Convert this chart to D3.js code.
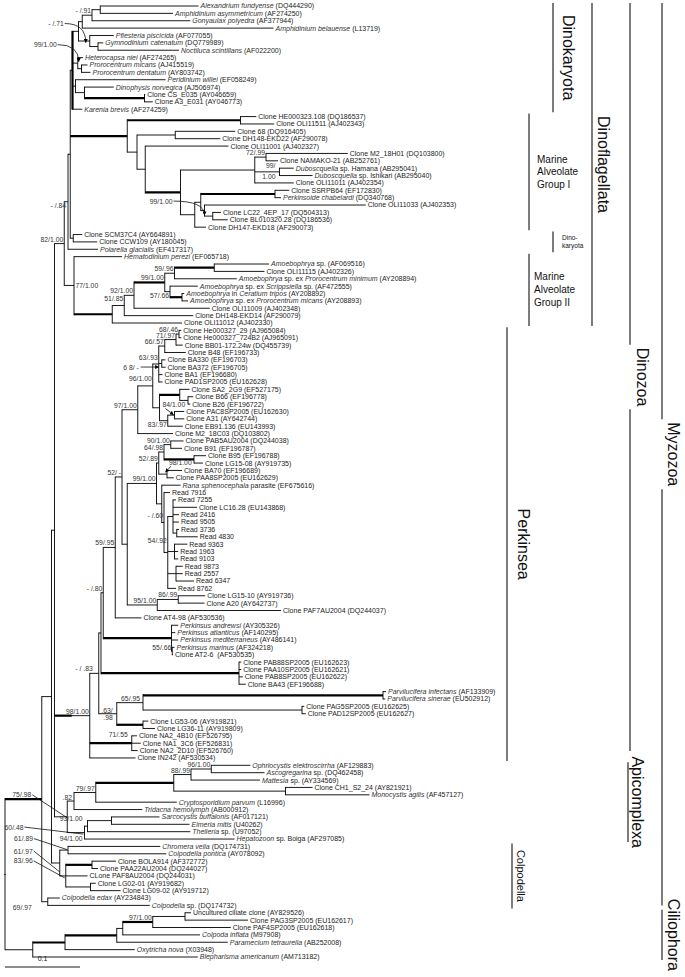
<!DOCTYPE html>
<html><head><meta charset="utf-8">
<script src="https://cdn.jsdelivr.net/npm/d3@7"></script>
<style>
html,body{margin:0;padding:0;background:#fff;}
svg{display:block;}
</style></head><body>
<svg id="chart" width="685" height="977"></svg>
<script>
// ---------------- DATA ----------------
// Leaf labels in tree order; *...* marks italic text.
const leafLabels = [
"*Alexandrium fundyense* (DQ444290)","*Amphidinium asymmetricum* (AF274250)","*Gonyaulax polyedra* (AF377944)",
"*Amphidinium belauense* (L13719)","*Pfiesteria piscicida* (AF077055)","*Gymnodinium catenatum* (DQ779989)",
"*Noctiluca scintillans* (AF022200)","*Heterocapsa niei* (AF274265)","*Prorocentrum micans* (AJ415519)",
"*Prorocentrum dentatum* (AY803742)","*Peridinium willei* (EF058249)","*Dinophysis norvegica* (AJ506974)",
"Clone CS_E035 (AY046659)","Clone A3_E031 (AY046773)","*Karenia brevis* (AF274259)",
"Clone HE000323.108 (DQ186537)","Clone OLI11511 (AJ402343)","Clone 68 (DQ916405)","Clone DH148-EKD22 (AF290078)",
"Clone OLI11001 (AJ402327)","Clone M2_18H01 (DQ103800)","Clone NAMAKO-21 (AB252761)",
"*Duboscquella* sp. Hamana (AB295041)","*Duboscquella* sp. Ishikari (AB295040)","Clone OLI11011 (AJ402354)",
"Clone SSRPB64 (EF172830)","*Perkinsoide chabelardi* (DQ340768)","Clone OLI11033 (AJ402353)",
"Clone LC22_4EP_17 (DQ504313)","Clone BL010320.28 (DQ186536)","Clone DH147-EKD18 (AF290073)",
"Clone SCM37C4 (AY664891)","Clone CCW109 (AY180045)","*Polarella glacialis* (EF417317)",
"*Hematodinium perezi* (EF065718)","*Amoebophrya* sp. (AF069516)","Clone OLI11115 (AJ402326)",
"*Amoebophrya* sp. ex *Prorocentrum minimum* (AY208894)","*Amoebophrya* sp. ex *Scrippsiella* sp. (AF472555)",
"*Amoebophrya* in *Ceratium tripos* (AY208892)","*Amoebophrya* sp. ex *Prorocentrum micans* (AY208893)",
"Clone OLI11009 (AJ402348)","Clone DH148-EKD14 (AF290079)","Clone OLI11012 (AJ402330)",
"Clone He000327_29 (AJ965084)","Clone He000327_724B2 (AJ965091)","Clone BB01-172.24w (DQ455739)",
"Clone B48 (EF196733)","Clone BA330 (EF196703)","Clone BA372 (EF196705)","Clone BA1 (EF196680)",
"Clone PAD1SP2005 (EU162628)","Clone SA2_2G9 (EF527175)","Clone B66 (EF196778)","Clone B26 (EF196722)",
"Clone PAC8SP2005 (EU162630)","Clone A31 (AY642744)","Clone EB91.136 (EU143993)","Clone M2_18C03 (DQ103802)",
"Clone PAB5AU2004 (DQ244038)","Clone B91 (EF196787)","Clone B95 (EF196788)","Clone LG15-08 (AY919735)",
"Clone BA70 (EF196689)","Clone PAA8SP2005 (EU162629)","*Rana sphenocephala* parasite (EF675616)",
"Read 7916","Read 7255","Clone LC16.28 (EU143868)","Read 2416","Read 9505","Read 3736","Read 4830",
"Read 9363","Read 1963","Read 9103","Read 9873","Read 2557","Read 6347","Read 8762",
"Clone LG15-10 (AY919736)","Clone A20 (AY642737)","Clone PAF7AU2004 (DQ244037)","Clone AT4-98 (AF530536)",
"*Perkinsus andrewsi* (AY305326)","*Perkinsus atlanticus* (AF140295)","*Perkinsus mediterraneus* (AY486141)",
"*Perkinsus marinus* (AF324218)","Clone AT2-6  (AF530535)","Clone PAB88SP2005 (EU162623)",
"Clone PAA10SP2005 (EU162621)","Clone PAB8SP2005 (EU162622)","Clone BA43 (EF196688)",
"*Parvilucifera infectans* (AF133909)","*Parvilucifera sinerae* (EU502912)","Clone PAG5SP2005 (EU162625)",
"Clone PAD12SP2005 (EU162627)","Clone LG53-06 (AY919821)","Clone LG36-11 (AY919809)",
"Clone NA2_4B10 (EF526795)","Clone NA1_3C6 (EF526831)","Clone NA2_2D10 (EF526760)","Clone IN242 (AF530534)",
"*Ophriocystis elektroscirrha* (AF129883)","*Ascogregarina* sp. (DQ462458)","*Mattesia* sp. (AY334569)",
"Clone CH1_S2_24 (AY821921)","*Monocystis agilis* (AF457127)","*Cryptosporidium parvum* (L16996)",
"*Tridacna hemolymph* (AB000912)","*Sarcocystis buffalonis* (AF017121)","*Eimeria mitis* (U40262)",
"*Theileria* sp. (U97052)","*Hepatozoon* sp. Boiga (AF297085)","*Chromera velia* (DQ174731)",
"*Colpodella pontica* (AY078092)","Clone BOLA914 (AF372772)","Clone PAA22AU2004 (DQ244027)",
"CLone PAF8AU2004 (DQ244031)","Clone LG02-01 (AY919682)","Clone LG09-02 (AY919712)",
"*Colpodella edax* (AY234843)","*Colpodella* sp. (DQ174732)","Uncultured ciliate clone (AY829526)",
"Clone PAG3SP2005 (EU162617)","Clone PAF4SP2005 (EU162618)","*Colpoda inflata* (M97908)",
"*Paramecium tetraurelia* (AB252008)","*Oxytricha nova* (X03948)","*Blepharisma americanum* (AM713182)"
];

// Sub-trees in Newick (leaf = index into leafLabels, 1-based; branch lengths in substitutions/site)
const nwkDinokaryota = "(((((1:0.131,2:0.097)nAA:0.011,3:0.131)n91:0.013,4:0.255)nTop1:0.005,(5:0.032,(6:0.007,7:0.108)nGN:0.011)nPG:0.015)nTop:0.008,(8:0.007,(9:0.008,10:0.012)nProro:0.005)n99dk:0.007,(11:0.120,(12:0.039,(13:0.001,14:0.011)nDD:0.080)nDino:0.012)nPer:0.004,15:0.013)DK";
const nwkMAG1 = "((16:0.021,17:0.045)nHE:0.151,((18:0.080,19:0.060)nC68:0.051,(20:0.111,(((21:0.109,22:0.016)node72:0.015,(23:0.019,24:0.044)nDub:0.033,25:0.052)nUp:0.099,(((26:0.019,27:0.008)nSP:0.099,(28:0.215,(29:0.011,30:0.020)nLB:0.011)nLow2:0.005)nLow1:0.008,31:0.015)nLow:0.019)nMid:0.047)nR3:0.011)nR2:0.013)MAGI";
const nwkMAG2 = "((((((36:0.073,37:0.067)nAO:0.053,38:0.083)n59:0.013,(39:0.037,(40:0.003,41:0.008)nCer:0.016)n57:0.007)n99m:0.041,42:0.101)n92:0.013,43:0.092)n51:0.016,44:0.093)MAGII";
const nwkDinoflag = "(((" + nwkDinokaryota + ":0.003," + nwkMAG1 + ":0.076,(32:0.012,33:0.032)nSC:0.004)X:0.003,34:0.040)node84:0.005,(35:0.064," + nwkMAG2 + ":0.051)node77:0.013)node82";
const nwkPerkA = "(((((45:0.003,46:0.003)nHe:0.004,47:0.009)n71:0.015,48:0.028)n66:0.008,(49:0.005,50:0.005)nBA:0.004,51:0.005,52:0.005)n63:0.008,((53:0.013,(54:0.007,55:0.003)nBB:0.011)nSA:0.027,((56:0.013,57:0.013)nPA:0.009,58:0.020)n83b:0.011)nLG:0.009)n96";
const nwkPerkB = "((((60:0.017,61:0.015)nPB:0.009,(62:0.016,63:0.012)nB95:0.040)n64:0.007,(64:0.020,65:0.009)n98b:0.011)n52:0.003,(66:0.025,(67:0.008,((68:0.004,69:0.032,70:0.008,71:0.008,(72:0.003,73:0.028)nR36:0.005)nR60:0.007,(74:0.017,75:0.005,76:0.005)nR9:0.009,(77:0.009,78:0.009,79:0.024)nR98:0.011,80:0.011)nR54:0.005)nReads:0.003)nRR:0.007)n99P";
const nwkPerkinsea = "((((((((" + nwkPerkA + ":0.020,59:0.047)n97:0.021,(" + nwkPerkB + ":0.039,((81:0.036,82:0.035)n86:0.028,83:0.165)n95:0.040)nA:0.007)n52m:0.009,84:0.035)n59p:0.016,(85:0.009,86:0.005,87:0.009,(88:0.003,89:0.001)n55:0.001)nPerk:0.091)n80:0.003,(90:0.003,91:0.003,92:0.005,93:0.009)nPAB:0.184)nQ:0.003,(((94:0.004,95:0.003)nParv:0.320,(96:0.003,97:0.005)nPAG:0.212)n65:0.035,(98:0.007,99:0.016)nLGP:0.035)n63P:0.024)n83:0.012,(100:0.007,101:0.012,102:0.008)nNA:0.056,103:0.061)n98";
const nwkApicomplexa = "((((((104:0.052,105:0.071)n96g:0.027,106:0.092)n88:0.023,(107:0.036,108:0.112)nCHM:0.149)greg:0.104,109:0.108)n79:0.029,110:0.091)node82a:0.009,(((111:0.064,112:0.104)nSE:0.032,113:0.137)n93:0.004,114:0.200)node94:0.023)node75";
const nwkChromerids = "((115:0.123,116:0.131)nChr:0.011,((117:0.032,118:0.008)nBP:0.035,119:0.029,(120:0.007,121:0.040)nLGc:0.033)nClones:0.008)n6197";
const nwkCiliophora = "((((((124:0.008,125:0.084)nUP:0.043,126:0.104)nC97:0.040,127:0.103)C2:0.008,128:0.148)C3:0.069,129:0.093)C1:0.043,130:0.220)C0";
const treeNewick = "((((((" + nwkDinoflag + ":0.013," + nwkPerkinsea + ":0.024)Dinozoa:0.023," + nwkApicomplexa + ":0.017)B:0.004," +
  nwkChromerids + ":0.011)A:0.013,(122:0.016,123:0.136)CE:0.008)R1:0.049," + nwkCiliophora + ":0.037)root;";

// Support values (bootstrap / posterior) and the node they belong to ("|" = line break)
const supportNodes = ["n91","nPG","n99dk","node72","nDub","nLow2","node84","node82","node77","n59","n99m","n57","n92","n51",
  "nHe","n71","n66","n63","nBA","n96","nPA","n83b","n97","nPB","n64","n52","n98b","n52m","n99P","nReads","nR54","n59p",
  "n80","n86","n95","n55","n83","n65","n63P","n98","nNA","n96g","n88","n79","node82a","node75","n93","node94","node94",
  "nChr","n6197","nClones","CE","nC97"];
const supportTexts = ["- /.91","- /.71","99/1.00","72/.99","99/|1.00","99/1.00","- /.84","82/1.00","77/1.00","59/.96","99/1.00","57/.66","92/1.00","51/.85",
  "68/.46","71/.97","66/.57","63/.93","6 8/ -","96/1.00","84/1.00","83/.97","97/1.00","90/1.00","64/.98","52/.89","98/1.00","52/ -","99/1.00","- /.60","54/.92","59/.95",
  "- /.80","86/.99","95/1.00","55/.66","- / .83","65/.95",".63/|.98","98/1.00","71/.55","96/1.00","88/.99","79/.97",".82","75/.98","93/1.00","94/1.00","60/.48",
  "61/.89","61/.97","83/.96","69/.97","97/1.00"];

// Branches drawn with a heavy stroke
const thickStems = ["R1","Dinozoa","MAGI","nHE","nMid","nSP","nDD","MAGII","nCer","nAO","nPerk","nPAB","nParv","nLGP","nNA",
  "nB95","nSA","greg","nBP","C1","C3","nC97","n99m"];
const thickVerticals = ["DK"];

// Clade brackets: name, first leaf, last leaf
const cladeNames = ["Dinokaryota","Dinoflagellata","Dinozoa","Myzozoa","Marine|Alveolate|Group I","Dino-|karyota",
  "Marine|Alveolate|Group II","Perkinsea","Apicomplexa","Colpodella","Ciliophora"];
const cladeFirst = [1,1,1,1,16,32,35,45,104,115,124];
const cladeLast  = [15,44,103,123,31,34,44,103,114,123,130];

const scaleBarValue = 0.1;
const scaleBarLabel = "0.1";

// ---------------- STYLE ----------------
const FONT = '"Liberation Sans", Arial, Helvetica, sans-serif';
const cladeStyle = [
  {bar:553, tx:563, fs:16, rot:true},
  {bar:592, tx:598, fs:16, rot:true},
  {bar:630, tx:637, fs:16, rot:true, gap:true, padB:-10},
  {bar:662, tx:668, fs:16, rot:true, gap:true, padB:-3},
  {bar:529, tx:537, fs:10, lh:12.6},
  {bar:553, tx:562, fs:6.5, lh:8},
  {bar:529, tx:534, fs:10, lh:13},
  {bar:507, tx:518, fs:16, rot:true},
  {bar:628, tx:632, fs:16, rot:true},
  {bar:512, tx:517, fs:11, rot:true},
  {bar:662, tx:668, fs:16, rot:true}
];
// label placement relative to node (default: right-aligned, just above the stem)
const supportStyle = {
  "nPG|- /.71":   {dx:-26, dy:-15, leader:"curve", s:[-25,-17.5], t:[-4,1.5]},
  "n99dk|99/1.00":{dx:-21, dy:-16, leader:"curve", s:[-20,-18.5], t:[1,-1.5]},
  "nLow2|99/1.00":{dx:-32, dy:-7, leader:"curve", s:[-31,-9.5], t:[0,4.5]},
  "nBA|6 8/ -":   {dx:-23, dy:6, leader:"arrow", s:[-21,3.5], t:[-3,3.5]},
  "nPA|84/1.00":  {dx:-12, dy:-8.5, anchor:"start", leader:"arrow", s:[-9,-6.5], t:[-1,-0.5]},
  "n98b|98/1.00": {dx:2, dy:-9.5, anchor:"start", leader:"arrow", s:[4,-8], t:[-1.5,-2]},
  "node75|75/.98":{dx:-36, dy:-19.5, leader:"line", s:[-35,-22], t:[0,1]},
  "node94|60/.48":{dx:-61, dy:-3, leader:"line", s:[-60,-5.5], t:[-1,1.5]},
  "nChr|61/.89":  {dx:-35, dy:-9, leader:"line", s:[-34,-11.5], t:[-1,-0.5]},
  "n6197|61/.97": {dx:-27, dy:-9.5, leader:"line", s:[-26,-12], t:[0,9]},
  "nClones|83/.96":{dx:-33, dy:-12.5, leader:"line", s:[-32,-15], t:[-1,2]},
  "nDub|99/|1.00":{dx:-4, dy:-3.5, lh:10.5},
  "node84|- /.84":{dx:-2, dy:6},
  "node77|77/1.00":{dx:1.5, dy:2.5, anchor:"start"},
  "n57|57/.66":   {dy:6},
  "n51|51/.85":   {dy:-4},
  "n63|63/.93":   {dy:-4},
  "n96|96/1.00":  {dy:-5},
  "n83b|83/.97":  {dy:6},
  "nReads|- /.60":{dy:-5},
  "nR54|54/.92":  {dy:-9},
  "n55|55/.66":   {dy:-1},
  "n83|- / .83":  {dx:-6},
  "n65|65/.95":   {dx:-3},
  "n63P|.63/|.98":{dx:-4, dy:-1, lh:7.5},
  "nNA|71/.55":   {dx:-4, dy:-6},
  "n93|93/1.00":  {dx:-5, dy:-5},
  "node94|94/1.00":{dx:-2, dy:8},
  "CE|69/.97":    {dx:-16, dy:8.5},
  "node82a|.82":  {dx:-2, dy:-1}
};

// ---------------- PARSE + LAYOUT ----------------
function parseNewick(str) {
  const s = str.replace(/\s+/g, "");
  let i = 0;
  function node() {
    const n = {children: []};
    if (s[i] === "(") {
      i++;
      n.children.push(node());
      while (s[i] === ",") { i++; n.children.push(node()); }
      i++;
    }
    let name = "";
    while (i < s.length && !",():;".includes(s[i])) name += s[i++];
    n.name = name;
    n.length = 0;
    if (s[i] === ":") {
      i++; let num = "";
      while (i < s.length && !",();".includes(s[i])) num += s[i++];
      n.length = +num;
    }
    if (!n.children.length) delete n.children;
    return n;
  }
  return node();
}

const root = d3.hierarchy(parseNewick(treeNewick));
root.eachBefore(d => { d.dist = d.parent ? d.parent.dist + d.data.length : 0; });
const xScale = d3.scaleLinear().domain([0, scaleBarValue]).range([5, 80]);
const yScale = d3.scaleLinear().domain([1, leafLabels.length]).range([6, 957]);
root.leaves().forEach(d => { d.py = yScale(+d.data.name); });
root.eachAfter(d => {
  if (d.children) d.py = (d.children[0].py + d.children[d.children.length - 1].py) / 2;
  d.px = xScale(d.dist);
});
const byName = new Map(root.descendants().filter(d => d.children).map(d => [d.data.name, d]));

// ---------------- DRAW ----------------
const svg = d3.select("#chart");
svg.append("rect").attr("width", 685).attr("height", 977).attr("fill", "#fff");
const defs = svg.append("defs");
defs.append("marker").attr("id", "arr").attr("viewBox", "0 0 10 10").attr("refX", 9).attr("refY", 5)
  .attr("markerWidth", 5).attr("markerHeight", 5).attr("orient", "auto")
  .append("path").attr("d", "M0,0 L10,5 L0,10 z").attr("fill", "#000");

const gTree = svg.append("g").attr("stroke", "#000").attr("fill", "none");
gTree.selectAll("line.h").data(root.descendants().filter(d => d.parent))
  .join(enter => enter.append("line").attr("class", "h"))
  .attr("x1", d => d.parent.px).attr("x2", d => d.px)
  .attr("y1", d => d.py).attr("y2", d => d.py)
  .attr("stroke-width", d => thickStems.includes(d.data.name) ? 2.2 : 0.9);
gTree.selectAll("line.v").data(root.descendants().filter(d => d.children))
  .join(enter => enter.append("line").attr("class", "v"))
  .attr("x1", d => d.px).attr("x2", d => d.px)
  .attr("y1", d => d.children[0].py - (thickStems.includes(d.children[0].data.name) ? 1.1 : 0.45))
  .attr("y2", d => d.children[d.children.length - 1].py + (thickStems.includes(d.children[d.children.length - 1].data.name) ? 1.1 : 0.45))
  .attr("stroke-width", d => thickVerticals.includes(d.data.name) ? 2.2 : 0.9);

// leaf labels
const gLab = svg.append("g").attr("font-family", FONT).attr("font-size", 7).attr("fill", "#1c1c1c");
gLab.selectAll("text").data(root.leaves()).join("text")
  .attr("x", d => d.px + 2).attr("y", d => d.py).attr("dy", "0.35em")
  .style("white-space", "pre")
  .each(function(d) {
    const t = d3.select(this);
    leafLabels[+d.data.name - 1].split("*").forEach((part, k) => {
      if (part) t.append("tspan").attr("font-style", k % 2 ? "italic" : null)
        .attr("fill", k % 2 ? "#333" : null).text(part);
    });
  });

// support values
const gSup = svg.append("g").attr("font-family", FONT).attr("font-size", 6.8).attr("fill", "#333");
const gLead = svg.append("g").attr("stroke", "#111").attr("fill", "none").attr("stroke-width", 0.8);
supportNodes.forEach((nm, i) => {
  const n = byName.get(nm);
  if (!n) return;
  const txt = supportTexts[i];
  const st = Object.assign({dx: -1, dy: -2, anchor: "end", lh: 7}, supportStyle[nm + "|" + txt] || {});
  const lines = txt.split("|");
  lines.forEach((ln, k) => {
    gSup.append("text").attr("x", n.px + st.dx).attr("y", n.py + st.dy + k * st.lh)
      .attr("text-anchor", st.anchor).style("white-space", "pre").text(ln);
  });
  if (st.leader) {
    const sx = n.px + st.s[0], sy = n.py + st.s[1], tx = n.px + st.t[0], ty = n.py + st.t[1];
    let p;
    if (st.leader === "curve") p = `M${sx},${sy} Q${tx},${sy} ${tx},${ty}`;
    else p = `M${sx},${sy} L${tx},${ty}`;
    const path = gLead.append("path").attr("d", p);
    if (st.leader !== "line") path.attr("marker-end", "url(#arr)");
  }
});

// clade brackets
const gClade = svg.append("g").attr("font-family", FONT).attr("fill", "#111");
cladeNames.forEach((name, i) => {
  const st = cladeStyle[i];
  const y1 = yScale(cladeFirst[i]) - 3 + (st.padT || 0), y2 = yScale(cladeLast[i]) + 3 + (st.padB || 0);
  const cy = (y1 + y2) / 2;
  let segs = [[y1, y2]];
  if (st.rot) {
    const t = gClade.append("text").attr("transform", `translate(${st.tx},${cy}) rotate(90)`)
      .attr("text-anchor", "middle").attr("font-size", st.fs).text(name);
    if (st.gap) {
      const len = t.node().getComputedTextLength();
      segs = [[y1, cy - len / 2 - 3], [cy + len / 2 + 3, y2]];
    }
  } else {
    const lines = name.split("|");
    lines.forEach((ln, k) => {
      gClade.append("text").attr("x", st.tx)
        .attr("y", cy + (k - (lines.length - 1) / 2) * st.lh).attr("dy", "0.35em")
        .attr("font-size", st.fs).text(ln);
    });
  }
  segs.forEach(sg => {
    svg.append("line").attr("x1", st.bar).attr("x2", st.bar).attr("y1", sg[0]).attr("y2", sg[1])
      .attr("stroke", "#111").attr("stroke-width", 1.1);
  });
});

// scale bar
svg.append("line").attr("x1", xScale(0)).attr("x2", xScale(scaleBarValue)).attr("y1", 967).attr("y2", 967)
  .attr("stroke", "#000").attr("stroke-width", 0.9);
svg.append("text").attr("x", (xScale(0) + xScale(scaleBarValue)) / 2).attr("y", 961)
  .attr("text-anchor", "middle").attr("font-family", FONT).attr("font-size", 7).attr("fill", "#222")
  .text(scaleBarLabel);
</script>
</body></html>
